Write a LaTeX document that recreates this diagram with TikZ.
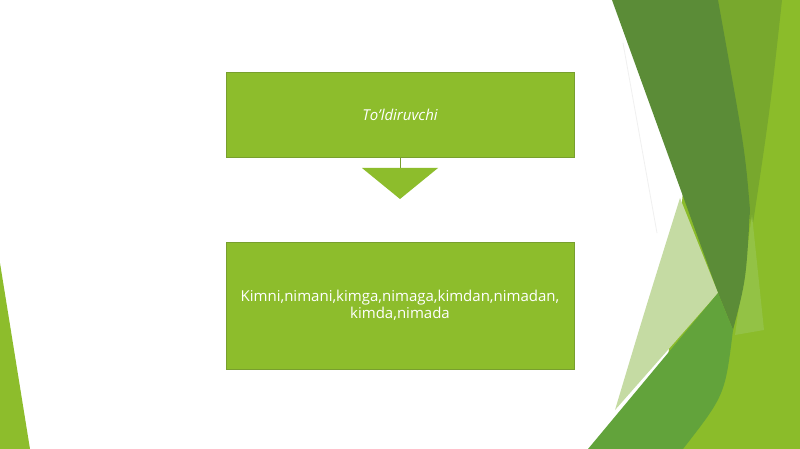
\documentclass[tikz,border=0pt]{standalone}
\usepackage{fontspec}
\setmainfont{Open Sans}
\definecolor{boxgreen}{HTML}{8DBD2C}
\definecolor{boxline}{HTML}{789F2E}
\definecolor{darkband}{HTML}{5B8C37}
\definecolor{oliveband}{HTML}{78A82D}
\definecolor{limeband}{HTML}{8BBC2A}
\definecolor{midband}{HTML}{62A33B}
\definecolor{paleband}{HTML}{C5DBA3}
\definecolor{glowband}{HTML}{93C245}
\begin{document}
\begin{tikzpicture}[x=1pt, y=-1pt,
    box/.style={draw=boxline, line width=0.6pt, fill=boxgreen, text=white, inner sep=0pt, minimum width=348pt, font=\fontsize{15}{17}\selectfont}]
  \useasboundingbox (0, 0) rectangle (800, 449);
  \fill[white] (0, 0) rectangle (800, 449);

  \begin{scope}
    \fill[limeband] (700, 0) -- (800, 0) -- (800, 449) -- (660, 449) -- cycle;
    \fill[oliveband] (716, 0) -- (782, 0) .. controls (770, 110) .. (752, 230) -- cycle;
    \fill[glowband] (752, 215) -- (764, 330) -- (735, 335) -- cycle;
    \fill[darkband] (612, 0) -- (718, 0) .. controls (745, 150) .. (750, 210) .. controls (746, 280) .. (733, 330) -- (718, 293) -- cycle;
    \draw[gray!12, line width=0.8pt] (623, 43) -- (657, 233);
    \fill[paleband] (680, 198) -- (718, 293) -- (615, 410) .. controls (645, 310) .. cycle;
    \fill[midband] (718, 293) -- (733, 330) .. controls (725, 395) .. (683, 449) -- (588, 449) -- cycle;
    \fill[boxgreen] (0, 263) -- (30, 449) -- (0, 449) -- cycle;
  \end{scope}

  \node[box, minimum height=85pt] (object) at (400, 114.5) {\itshape To'ldiruvchi};
  \node[box, minimum height=127pt, text width=344pt, align=center] (questions) at (400, 305.5)
    {Kimni,nimani,kimga,nimaga,kimdan,nimadan,\\kimda,nimada};

  \coordinate (tri) at (400, 168);
  \draw[boxline, line width=0.6pt] (object.south) -- (tri);
  \fill[boxgreen] (tri) ++(-38, 0) -- ++(76, 0) -- ++(-38, 31) -- cycle;
\end{tikzpicture}
\end{document}
